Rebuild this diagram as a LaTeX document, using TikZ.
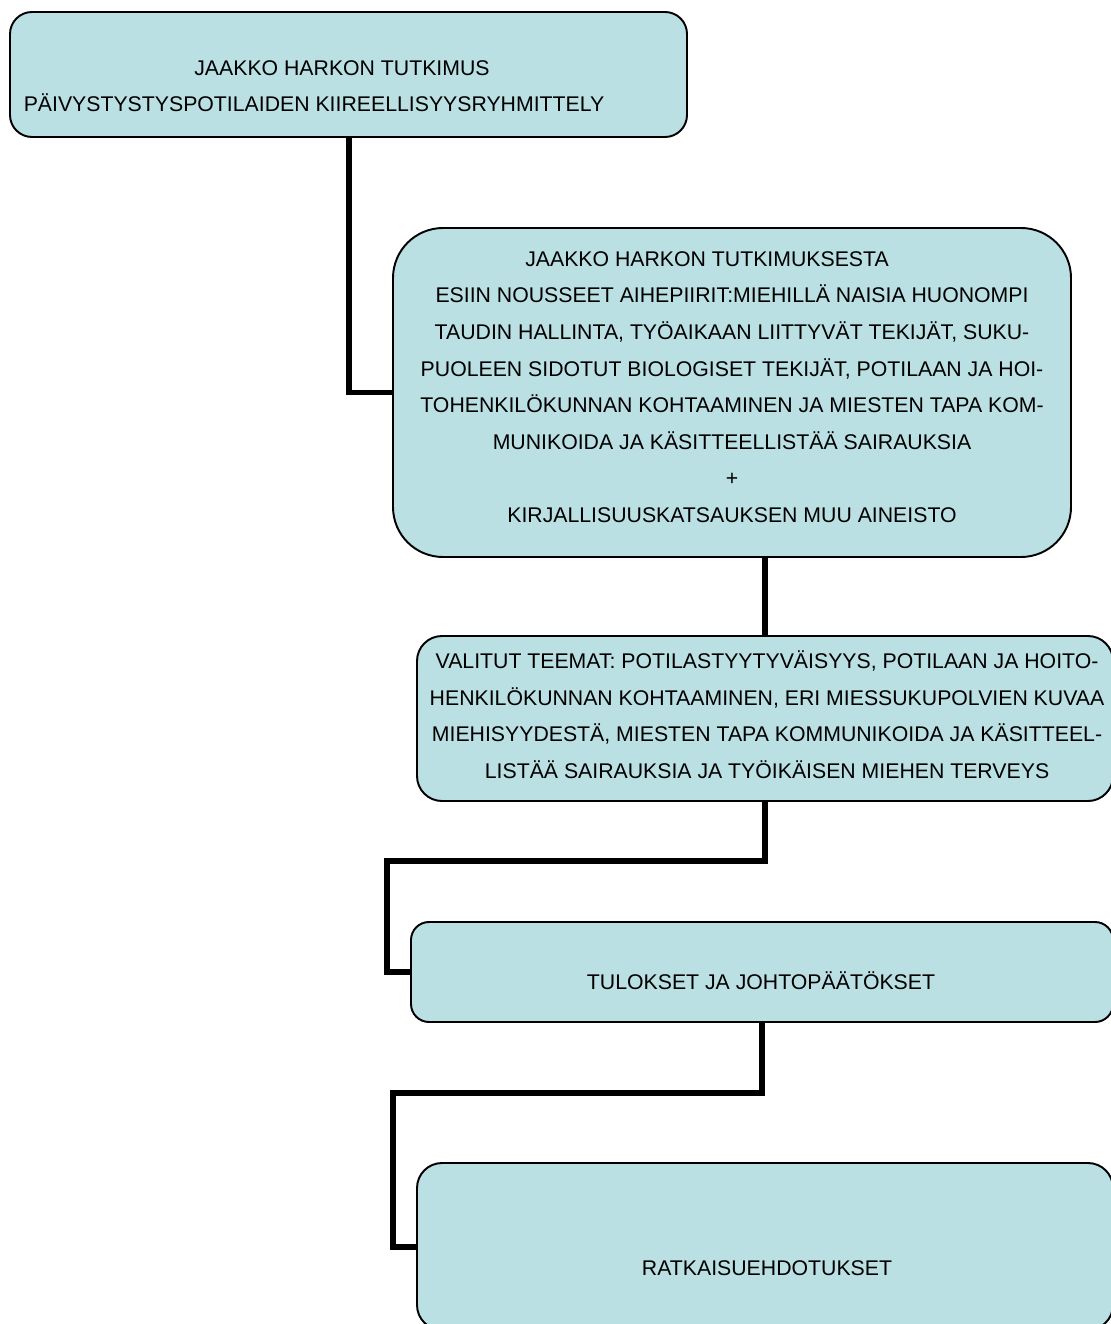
\documentclass[tikz,border=0pt]{standalone}
\usepackage{fontspec}
\setmainfont{Liberation Sans}
\usetikzlibrary{calc}
\definecolor{boxfill}{RGB}{186,224,227}
\tikzset{
  box/.style={draw=black, line width=1.1pt, fill=boxfill, inner sep=0pt, outer sep=0pt},
  conn/.style={draw=black, line width=3.4pt, line join=miter},
  txt/.style={align=center, inner sep=0pt, font=\fontsize{12.1}{20.8}\selectfont}
}
\begin{document}
\begin{tikzpicture}[x=0.02cm, y=-0.02cm]
  \useasboundingbox (0,0) rectangle (1111,1324);
  \clip (0,0) rectangle (1111,1324);
  % boxes
  \node[box, rounded corners=0.44cm, minimum width=677*0.02cm, minimum height=125*0.02cm] (b1) at (348.5,74.5) {};
  \node[box, rounded corners=1.0cm, minimum width=678*0.02cm, minimum height=329*0.02cm] (b2) at (732,392.5) {};
  \node[box, rounded corners=0.5cm, minimum width=696*0.02cm, minimum height=165*0.02cm] (b3) at (765,718.5) {};
  \node[box, rounded corners=0.36cm, minimum width=702*0.02cm, minimum height=100*0.02cm] (b4) at (762,972) {};
  \node[box, rounded corners=0.5cm, minimum width=696*0.02cm, minimum height=167*0.02cm] (b5) at (765,1246.5) {};
  % texts
  \node[txt] (t1) at (314,86) {\hspace*{1.12cm}JAAKKO HARKON TUTKIMUS\\PÄIVYSTYSTYSPOTILAIDEN KIIREELLISYYSRYHMITTELY};
  \node[txt] (t2) at (732,387) {JAAKKO HARKON TUTKIMUKSESTA\hspace*{1cm}\\
    ESIIN NOUSSEET AIHEPIIRIT:MIEHILLÄ NAISIA HUONOMPI\\
    TAUDIN HALLINTA, TYÖAIKAAN LIITTYVÄT TEKIJÄT, SUKU-\\
    PUOLEEN SIDOTUT BIOLOGISET TEKIJÄT, POTILAAN JA HOI-\\
    TOHENKILÖKUNNAN KOHTAAMINEN JA MIESTEN TAPA KOM-\\
    MUNIKOIDA JA KÄSITTEELLISTÄÄ SAIRAUKSIA\\
    +\\
    KIRJALLISUUSKATSAUKSEN MUU AINEISTO};
  \node[txt] (t3) at (767,714.5) {VALITUT TEEMAT: POTILASTYYTYVÄISYYS, POTILAAN JA HOITO-\\
    HENKILÖKUNNAN KOHTAAMINEN, ERI MIESSUKUPOLVIEN KUVAA\\
    MIEHISYYDESTÄ, MIESTEN TAPA KOMMUNIKOIDA JA KÄSITTEEL-\\
    LISTÄÄ SAIRAUKSIA JA TYÖIKÄISEN MIEHEN TERVEYS};
  \node[txt] (t4) at (761,981) {TULOKSET JA JOHTOPÄÄTÖKSET};
  \node[txt] (t5) at (767,1268) {RATKAISUEHDOTUKSET};
  % connectors
  \draw[conn] ($(b1.south west)+(339,0)$) |- (b2.west);
  \draw[conn] (b2.south -| b3.north) -- (b3.north);
  \draw[conn] (b3.south) -- ++(0,60) -| ($(b4.west)+(-24,0)$) -- (b4.west);
  \draw[conn] (b4.south) -- ++(0,71) -| ($(b5.west)+(-24,0)$) -- (b5.west);
\end{tikzpicture}
\end{document}
